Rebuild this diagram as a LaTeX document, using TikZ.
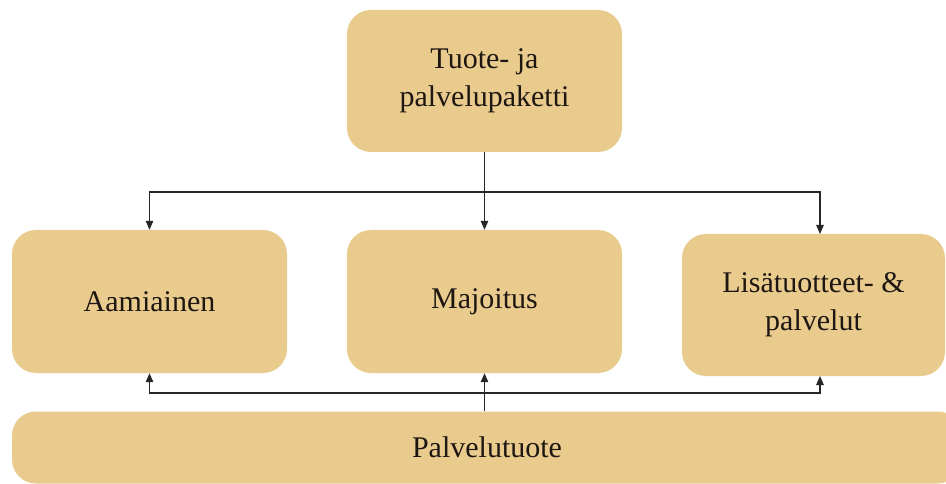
\documentclass[tikz,border=0pt]{standalone}
\usepackage{fontspec}
\setmainfont{Liberation Serif}
\usetikzlibrary{arrows.meta,calc}
\definecolor{boxfill}{RGB}{233,204,141}
\definecolor{txt}{RGB}{30,22,18}
\tikzset{
  box/.style={rectangle, rounded corners=24pt, fill=boxfill, draw=none,
    text=txt, align=center, font=\fontsize{30}{38}\selectfont, inner sep=0pt},
  conn/.style={draw=black!85, line width=1.1pt},
  arr/.style={conn, -{Triangle[length=9pt,width=7.5pt]}}
}
\begin{document}
\begin{tikzpicture}[x=1pt,y=-1pt]
\clip (0,0) rectangle (946,484);
\fill[white] (0,0) rectangle (946,484);
\node[box, minimum width=275pt, minimum height=142pt] (top) at (484.5,81) {Tuote- ja\\palvelupaketti};
\node[box, minimum width=275pt, minimum height=143pt] (left) at (149.5,301.5) {Aamiainen};
\node[box, minimum width=275pt, minimum height=143pt] (mid) at (484.5,301.5) {Majoitus};
\node[box, minimum width=263pt, minimum height=142pt] (right) at (813.5,305) {Lisätuotteet- \&\\palvelut};
\node[box, minimum width=950pt, minimum height=72pt] (bot) at (487,447.5) {Palvelutuote};
\coordinate (j1) at (484.5,192);
\coordinate (rt) at (820,234);
\coordinate (rb) at (820,376);
\coordinate (j2) at (484.5,393);
\coordinate (b1) at (bot.north -| mid.south);
\draw[conn] (top.south) -- (j1);
\draw[arr] (j1) -| (left.north);
\draw[arr] (j1) -- (mid.north);
\draw[arr] (j1) -| (rt);
\draw[arr] (b1) -- (mid.south);
\draw[arr] (j2) -| (left.south);
\draw[arr] (j2) -| (rb);
\end{tikzpicture}
\end{document}
